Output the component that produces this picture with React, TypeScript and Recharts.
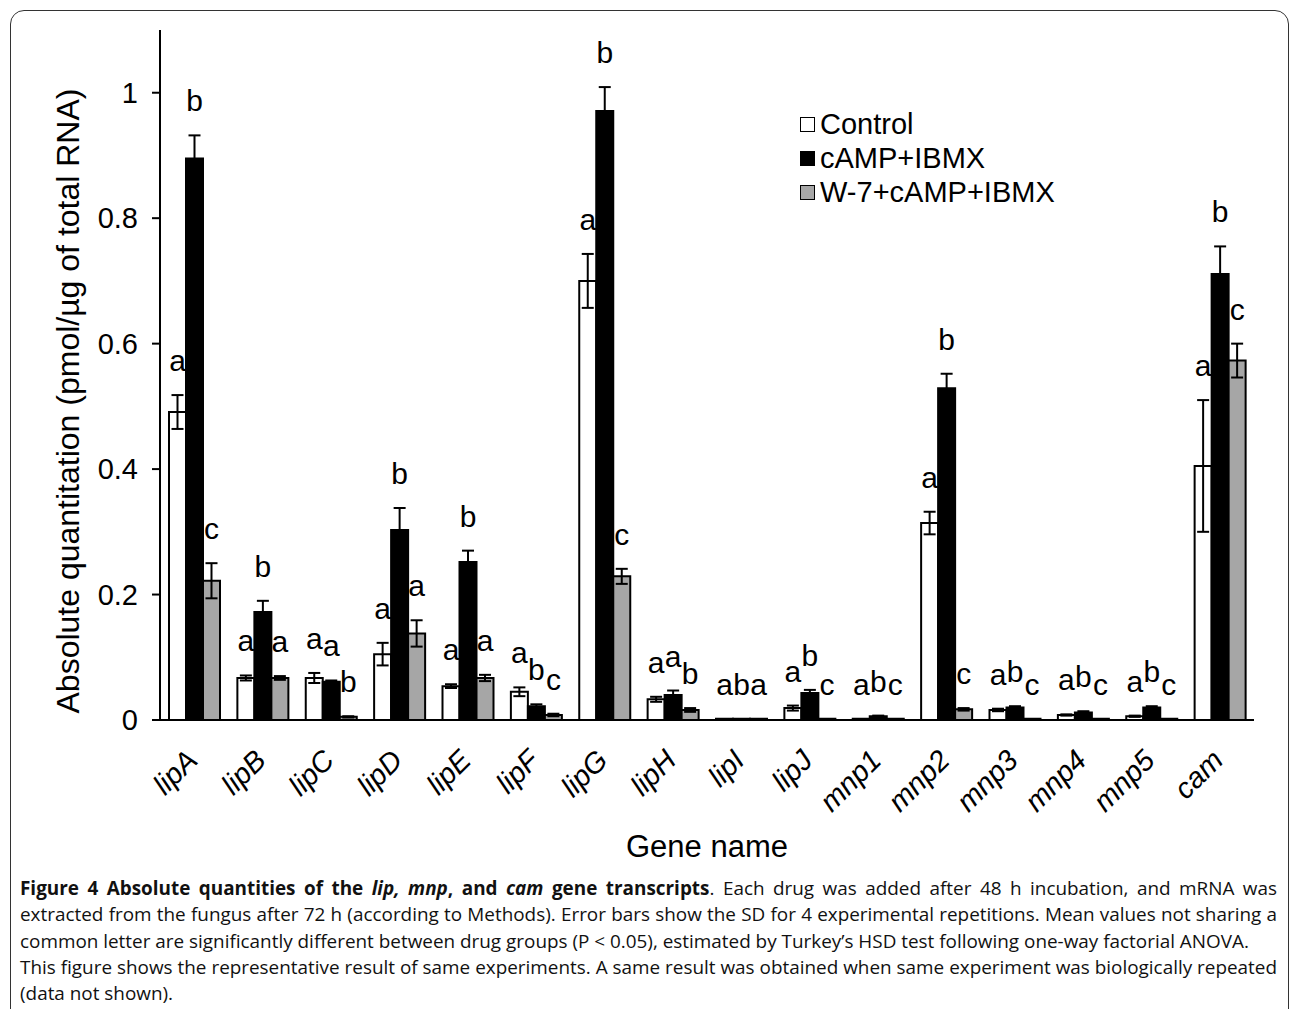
import React from 'react';
import { Bar, BarChart, ErrorBar, LabelList, Legend, XAxis, YAxis } from 'recharts';

const genes = ['lipA', 'lipB', 'lipC', 'lipD', 'lipE', 'lipF', 'lipG', 'lipH', 'lipI', 'lipJ', 'mnp1', 'mnp2', 'mnp3', 'mnp4', 'mnp5', 'cam'];

const control = [0.491, 0.067, 0.067, 0.105, 0.054, 0.045, 0.7, 0.033, 0.002, 0.019, 0.002, 0.314, 0.016, 0.008, 0.006, 0.405];
const controlSd = [0.027, 0.004, 0.008, 0.018, 0.003, 0.007, 0.043, 0.004, 0, 0.004, 0, 0.018, 0.002, 0.001, 0.001, 0.105];
const controlLetters = ['a', 'a', 'a', 'a', 'a', 'a', 'a', 'a', 'a', 'a', 'a', 'a', 'a', 'a', 'a', 'a'];

const camp = [0.895, 0.172, 0.061, 0.303, 0.252, 0.022, 0.971, 0.04, 0.002, 0.043, 0.006, 0.529, 0.02, 0.012, 0.02, 0.711];
const campSd = [0.037, 0.018, 0.002, 0.035, 0.018, 0.003, 0.038, 0.007, 0, 0.005, 0.001, 0.023, 0.002, 0.002, 0.002, 0.044];
const campLetters = ['b', 'b', 'a', 'b', 'b', 'b', 'b', 'a', 'b', 'b', 'b', 'b', 'b', 'b', 'b', 'b'];

const w7 = [0.222, 0.067, 0.005, 0.138, 0.067, 0.008, 0.229, 0.016, 0.002, 0.002, 0.002, 0.017, 0.002, 0.002, 0.002, 0.573];
const w7Sd = [0.028, 0.003, 0.001, 0.021, 0.005, 0.002, 0.012, 0.003, 0, 0, 0, 0.002, 0, 0, 0, 0.027];
const w7Letters = ['c', 'a', 'b', 'a', 'a', 'c', 'c', 'b', 'a', 'c', 'c', 'c', 'c', 'c', 'c', 'c'];

const yTicks = [0, 0.2, 0.4, 0.6, 0.8, 1];

const seriesInfo = [
    { key: 'control', name: 'Control', fill: '#ffffff', sd: controlSd, letters: controlLetters },
    { key: 'camp', name: 'cAMP+IBMX', fill: '#000000', sd: campSd, letters: campLetters },
    { key: 'w7', name: 'W-7+cAMP+IBMX', fill: '#a6a6a6', sd: w7Sd, letters: w7Letters }
];

const data = genes.map((gene, i) => ({
    gene,
    control: control[i],
    controlSd: controlSd[i],
    camp: camp[i],
    campSd: campSd[i],
    w7: w7[i],
    w7Sd: w7Sd[i]
}));

const FONT = '"Liberation Sans", Arial, sans-serif';

function GeneTick(props: any) {
    const { x, y, payload } = props;
    const tx = x + 5;
    const ty = y + 42;
    return (
        <text
            x={tx}
            y={ty}
            transform={`rotate(-45, ${tx}, ${ty})`}
            textAnchor="end"
            fontStyle="italic"
            fontSize={29}
            fontFamily={FONT}
            fill="#000"
        >
            {payload.value}
        </text>
    );
}

function YTitle(props: any) {
    // centred on the left margin, a bit below the plot centre like the original
    const cx = 68;
    const cy = 401;
    return (
        <text
            x={cx}
            y={cy}
            transform={`rotate(-90, ${cx}, ${cy})`}
            textAnchor="middle"
            dominantBaseline="central"
            fontSize={32}
            fontFamily={FONT}
            fill="#000"
        >
            Absolute quantitation (pmol/{'\u00b5'}g of total RNA)
        </text>
    );
}

function makeLetter(sd: number[], letters: string[]) {
    return (props: any) => {
        const { x, y, width, height, value, index } = props;
        const perUnit = value > 0 ? height / value : 0;
        const top = y - sd[index] * perUnit;
        return (
            <text x={x + width / 2} y={top - 24} textAnchor="middle" fontSize={30} fontFamily={FONT} fill="#000">
                {letters[index]}
            </text>
        );
    };
}

function LegendBox() {
    return (
        <div style={{ fontFamily: FONT, fontSize: 29, color: '#000' }}>
            {seriesInfo.map((s) => (
                <div key={s.key} style={{ display: 'flex', alignItems: 'center', height: 34 }}>
                    <span
                        style={{
                            display: 'inline-block',
                            width: 13,
                            height: 13,
                            border: '1.5px solid #000',
                            background: s.fill,
                            marginRight: 5
                        }}
                    />
                    <span>{s.name}</span>
                </div>
            ))}
        </div>
    );
}

const lineJustified: React.CSSProperties = { textAlign: 'justify', textAlignLast: 'justify', whiteSpace: 'nowrap' };

export default function App() {
    return (
        <div style={{ position: 'absolute', left: 0, top: 0, width: 1290, height: 1009, overflow: 'hidden', background: '#fff' }}>
            <div
                style={{
                    position: 'absolute',
                    left: 10,
                    top: 10,
                    width: 1277,
                    height: 1100,
                    border: '1.5px solid #333',
                    borderRadius: 14
                }}
            />
            <div style={{ position: 'absolute', left: 0, top: 0 }}>
                <BarChart
                    width={1290}
                    height={870}
                    data={data}
                    margin={{ top: 30, right: 36, left: 0, bottom: 0 }}
                    barSize={17}
                    barGap={0}
                    style={{ fontFamily: FONT }}
                >
                    <XAxis
                        dataKey="gene"
                        height={150}
                        tickLine={false}
                        tickSize={0}
                        tickMargin={0}
                        axisLine={{ stroke: '#000', strokeWidth: 2 }}
                        tick={<GeneTick />}
                        interval={0}
                        label={{ value: 'Gene name', position: 'insideBottom', offset: 13, fontSize: 31, fill: '#000', fontFamily: FONT }}
                    />
                    <YAxis
                        width={160}
                        domain={[0, 1.1]}
                        ticks={yTicks}
                        allowDataOverflow
                        tickSize={8}
                        tickMargin={14}
                        axisLine={{ stroke: '#000', strokeWidth: 2 }}
                        tickLine={{ stroke: '#000', strokeWidth: 2 }}
                        tick={{ fontSize: 29, fill: '#000', fontFamily: FONT }}
                        label={<YTitle />}
                    />
                    <Legend
                        layout="vertical"
                        align="center"
                        verticalAlign="middle"
                        content={<LegendBox />}
                        wrapperStyle={{ left: 800, top: 107, width: 320, height: 110 }}
                    />
                    {seriesInfo.map((s) => (
                        <Bar
                            key={s.key}
                            dataKey={s.key}
                            name={s.name}
                            fill={s.fill}
                            stroke="#000"
                            strokeWidth={2}
                            isAnimationActive={false}
                        >
                            <ErrorBar dataKey={`${s.key}Sd`} width={6} stroke="#000" strokeWidth={2} direction="y" />
                            <LabelList dataKey={s.key} content={makeLetter(s.sd, s.letters)} />
                        </Bar>
                    ))}
                </BarChart>
            </div>
            <div
                style={{
                    position: 'absolute',
                    left: 20,
                    top: 875,
                    width: 1257,
                    fontFamily: '"Open Sans", sans-serif',
                    fontSize: 18.9,
                    lineHeight: '26.3px',
                    color: '#111'
                }}
            >
                <div style={lineJustified}>
                    <b>
                        Figure 4 Absolute quantities of the <i>lip, mnp</i>, and <i>cam</i> gene transcripts
                    </b>
                    . Each drug was added after 48 h incubation, and mRNA was
                </div>
                <div style={lineJustified}>
                    extracted from the fungus after 72 h (according to Methods). Error bars show the SD for 4 experimental repetitions. Mean values not sharing a
                </div>
                <div style={{ whiteSpace: 'nowrap' }}>
                    common letter are significantly different between drug groups (P &lt; 0.05), estimated by Turkey’s HSD test following one-way factorial ANOVA.
                </div>
                <div style={lineJustified}>
                    This figure shows the representative result of same experiments. A same result was obtained when same experiment was biologically repeated
                </div>
                <div>(data not shown).</div>
            </div>
        </div>
    );
}
